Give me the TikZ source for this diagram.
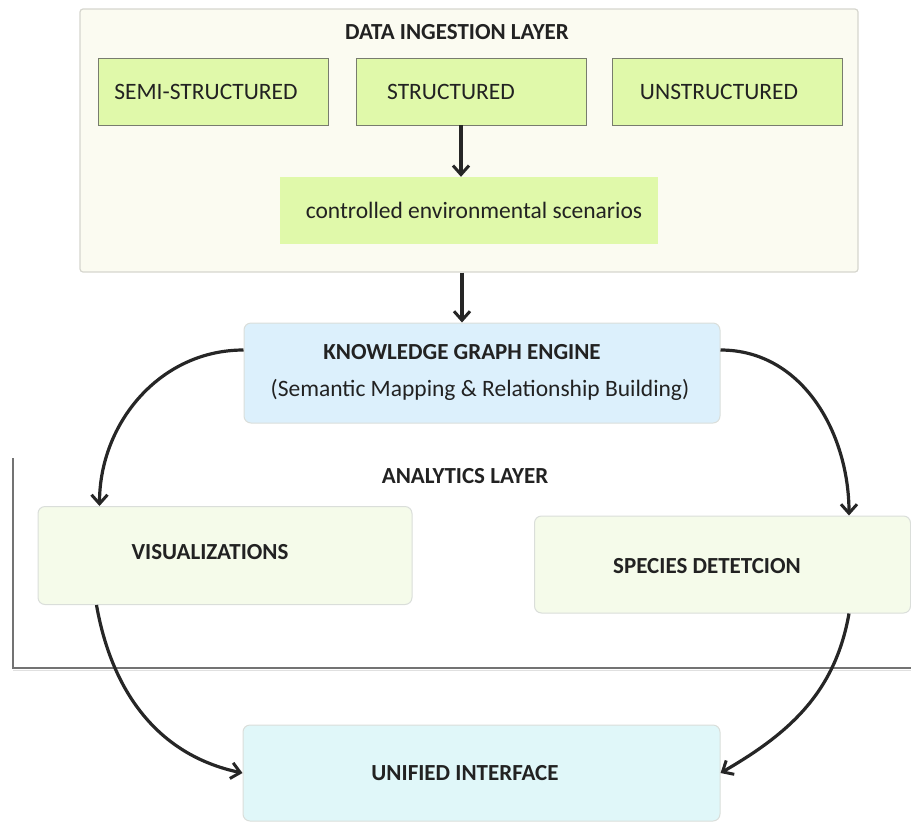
\documentclass[tikz,border=0pt]{standalone}
\usepackage{fontspec}
\setmainfont{Carlito}
\usetikzlibrary{arrows.meta,positioning,calc}

\definecolor{layerfill}{RGB}{251,251,241}
\definecolor{layerline}{RGB}{214,214,206}
\definecolor{srcfill}{RGB}{224,249,170}
\definecolor{srcline}{RGB}{120,124,110}
\definecolor{kgfill}{RGB}{220,240,252}
\definecolor{anafill}{RGB}{245,251,234}
\definecolor{uifill}{RGB}{224,247,249}
\definecolor{boxline}{RGB}{218,222,218}
\definecolor{txt}{RGB}{34,34,34}

\begin{document}
\begin{tikzpicture}[
x=1pt,y=-1pt,
font=\fontsize{23.5}{27}\selectfont,
every node/.style={text=txt},
layer/.style={rectangle,draw=layerline,fill=layerfill,rounded corners=3pt,line width=1.2pt},
src/.style={rectangle,draw=srcline,fill=srcfill,line width=0.9pt,minimum width=230,minimum height=67},
scen/.style={rectangle,fill=srcfill,minimum width=378,minimum height=67},
kgbox/.style={rectangle,draw=boxline,fill=kgfill,rounded corners=7pt,line width=1pt,minimum width=476,minimum height=100},
anabox/.style={rectangle,draw=boxline,fill=anafill,rounded corners=7pt,line width=1pt,minimum width=374,minimum height=98},
uibox/.style={rectangle,draw=boxline,fill=uifill,rounded corners=7pt,line width=1pt,minimum width=477,minimum height=96},
head/.style={font=\fontsize{23}{27}\selectfont\bfseries},
arr/.style={-{Straight Barb[length=9pt,width=16pt,line width=3pt]},line width=3.2pt,black!85}
]
\clip (0,0) rectangle (911,823);
\useasboundingbox (0,0) rectangle (911,823);

% data ingestion layer
\node[layer,minimum width=778,minimum height=263] (ingest) at (469,140.5) {};
\node[head] (ingesttitle) at (457,32) {DATA INGESTION LAYER};
\node[src] (semi) at (213,91.5) {SEMI-STRUCTURED\kern14pt};
\node[src] (struct) at (471,91.5) {STRUCTURED\kern40pt};
\node[src] (unstruct) at (727,91.5) {UNSTRUCTURED\kern16pt};
\node[scen] (scenario) at (469,210.5) {\kern10pt controlled environmental scenarios};

% knowledge graph
\node[kgbox] (kg) at (482,373) {};
\node[head] (kgtitle) at (462,352) {KNOWLEDGE GRAPH ENGINE};
\node (kgsub) at (480,390) {(Semantic Mapping \& Relationship Building)};

% analytics layer frame
\draw[black!55,line width=1.3pt] (13,458) -- (13,668) -- (911,668);
\draw[black!12,line width=1pt] (13,670) -- (911,670);
\node[head] (anatitle) at (465,476) {ANALYTICS LAYER};
\node[anabox] (vis) at (225,555.5) {};
\node[head] (vistitle) at (210,552) {VISUALIZATIONS};
\node[anabox,minimum width=376,minimum height=97] (species) at (722.5,564.5) {};
\node[head] (spectitle) at (707,566) {SPECIES DETETCION};

% interface
\node[uibox] (ui) at (481.5,773) {};
\node[head] (uititle) at (465,773) {UNIFIED INTERFACE};

\draw[arr] (struct.south -| 461,0) -- (scenario.north -| 461,0);
\draw[arr] (ingest.south -| 462,0) -- (kg.north -| 462,0);
\draw[arr] ([yshift=23pt]kg.west) to[out=180,in=90] ([xshift=62pt]vis.north west);
\draw[arr] ([yshift=23pt]kg.east) to[out=0,in=90] ([xshift=-62pt]species.north east);
\draw[arr] ([xshift=59pt]vis.south west) to[out=-80,in=168] (ui.west);
\draw[arr] ([xshift=-62pt]species.south east) to[out=-100,in=30] (ui.east);
\end{tikzpicture}
\end{document}
